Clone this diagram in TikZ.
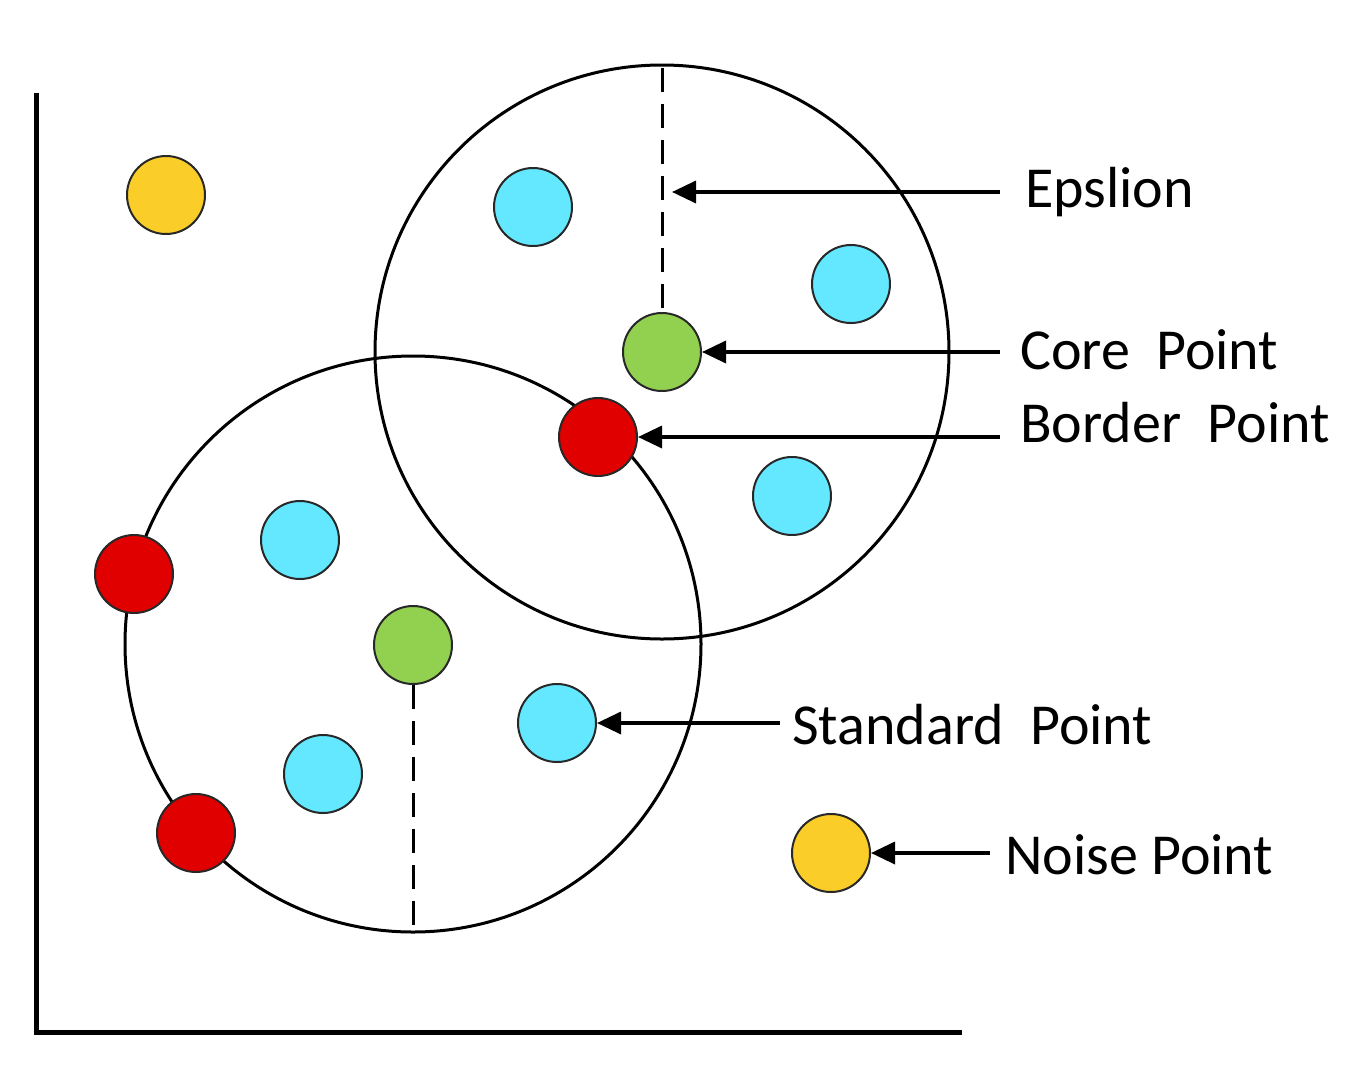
\documentclass[tikz,border=0pt]{standalone}
\usepackage{fontspec}
\setmainfont{Carlito}
\usetikzlibrary{arrows.meta}
\begin{document}
\begin{tikzpicture}[x=1pt,y=-1pt,
 pt/.style={circle,draw={rgb,255:red,40;green,40;blue,40},line width=2pt,minimum size=78pt,inner sep=0pt},
 cy/.style={pt,fill={rgb,255:red,100;green,232;blue,255}},
 gr/.style={pt,fill={rgb,255:red,146;green,208;blue,80}},
 rd/.style={pt,fill={rgb,255:red,224;green,0;blue,0}},
 ye/.style={pt,fill={rgb,255:red,250;green,205;blue,40}},
 lab/.style={anchor=west,font=\fontsize{58}{60}\selectfont,inner sep=0pt},
 arr/.style={line width=3.5pt,-{Triangle[length=24pt,width=22pt]}}]
\useasboundingbox (0,0) rectangle (1371,1066);
\draw[line width=5pt] (36,93) -- (36,1032) -- (962,1032);
\draw[line width=3pt] (662,352) circle (287);
\draw[line width=3pt] (413,644) circle (288);
\node[ye] (y1) at (166,195) {};
\node[cy] (c1) at (533,207) {};
\node[cy] (c2) at (851,284) {};
\node[gr] (g1) at (662,352) {};
\node[rd] (r1) at (598,437) {};
\node[cy] (c3) at (792,496) {};
\node[cy] (c4) at (300,540) {};
\node[rd] (r2) at (134,574) {};
\node[gr] (g2) at (413,645) {};
\node[cy] (c5) at (557,723) {};
\node[cy] (c6) at (323,774) {};
\node[rd] (r3) at (196,833) {};
\node[ye] (y2) at (831,853) {};
\coordinate (t1) at (662,68);
\coordinate (b2) at (413,932);
\draw[line width=3pt,dash pattern=on 24pt off 12pt] (t1) -- (g1.north);
\draw[line width=3pt,dash pattern=on 24pt off 12pt] (g2.south) -- (b2);
\node[lab] (le) at (1025,192) {Epslion};
\node[lab] (lc) at (1020,350) {Core\ \ Point};
\node[lab] (lb) at (1020,423) {Border\ \ Point};
\node[lab] (ls) at (792,725) {Standard\ \ Point};
\node[lab] (ln) at (1005,855) {Noise Point};
\coordinate (ae) at (1000,192); \coordinate (ee) at (672,192);
\draw[arr] (ae) -- (ee);
\coordinate (ac) at (1000,352);
\draw[arr] (ac) -- (g1.east);
\coordinate (ab) at (1000,437);
\draw[arr] (ab) -- (r1.east);
\coordinate (as) at (780,723);
\draw[arr] (as) -- (c5.east);
\coordinate (an) at (990,853);
\draw[arr] (an) -- (y2.east);
\end{tikzpicture}
\end{document}
